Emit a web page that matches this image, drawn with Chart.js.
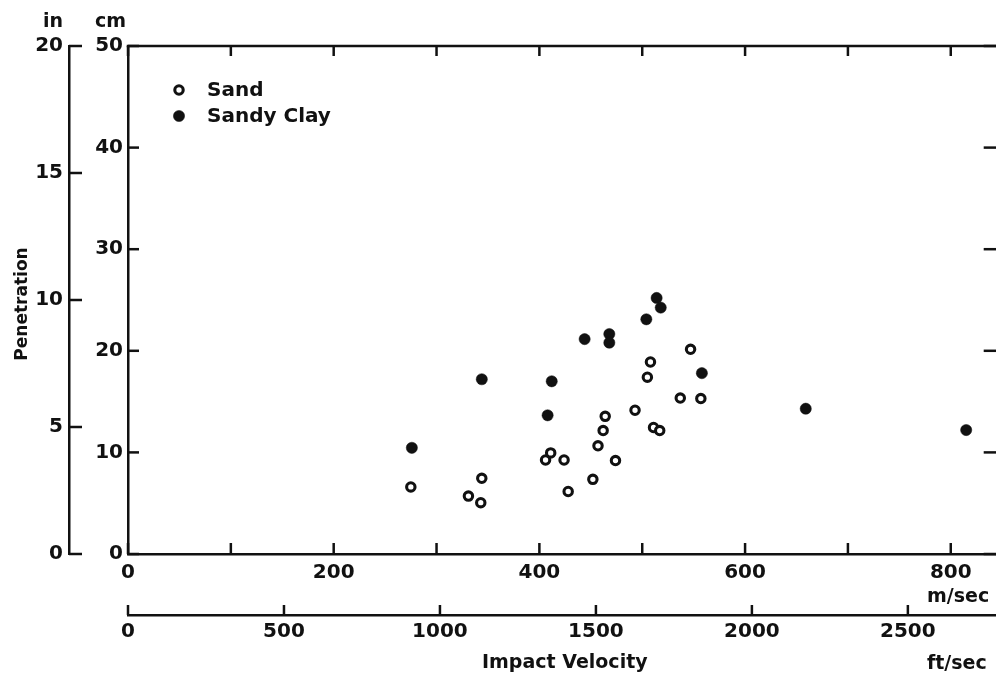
<!DOCTYPE html>
<html>
<head>
<meta charset="utf-8">
<script src="https://cdn.jsdelivr.net/npm/chart.js@4.4.1/dist/chart.umd.min.js"></script>
<style>
html,body{margin:0;padding:0;background:#fff;overflow:hidden;width:996px;height:682px}
canvas{display:block}
</style>
</head>
<body>
<canvas id="c" width="1010" height="682"></canvas>
<script>
// ---- data (impact velocity in m/sec, penetration in cm) ----
const sandVelocity    = [275, 331, 343, 344, 406, 411, 424, 428, 452, 457, 462, 464, 474, 493, 505, 508, 511, 517, 537, 547, 557];
const sandPenetration = [6.6, 5.7, 5.05, 7.45, 9.25, 9.95, 9.25, 6.15, 7.35, 10.65, 12.15, 13.55, 9.2, 14.15, 17.4, 18.9, 12.45, 12.15, 15.35, 20.15, 15.3];
const clayVelocity    = [276, 344, 408, 412, 444, 468, 468, 504, 514, 518, 558, 659, 815];
const clayPenetration = [10.45, 17.2, 13.65, 17.0, 21.15, 21.65, 20.8, 23.1, 25.2, 24.25, 17.8, 14.3, 12.2];

const seriesNames = ['Sand', 'Sandy Clay'];

// ---- tick values / labels ----
const mpsTicks    = [0, 100, 200, 300, 400, 500, 600, 700, 800];
const mpsLabelled = [0, 200, 400, 600, 800];
const ftTicks     = [0, 500, 1000, 1500, 2000, 2500];
const cmTicks     = [0, 10, 20, 30, 40, 50];
const inTicks     = [0, 5, 10, 15, 20];

const yTitle = 'Penetration';
const xTitle = 'Impact Velocity';
const unitIn = 'in', unitCm = 'cm', unitMps = 'm/sec', unitFt = 'ft/sec';

const INK = '#111';
const FONT = '"DejaVu Sans", sans-serif';

Chart.defaults.font.family = FONT;
Chart.defaults.color = INK;

function pts(xs, ys) { return xs.map((x, i) => ({x: x, y: ys[i]})); }

const decor = {
  id: 'decor',
  beforeDraw(chart) {
    const c = chart.ctx;
    c.save(); c.fillStyle = '#fff'; c.fillRect(0, 0, chart.width, chart.height); c.restore();
  },
  afterDraw(chart) {
    const {ctx, chartArea: a, scales: s} = chart;
    const line = (x1, y1, x2, y2) => { ctx.beginPath(); ctx.moveTo(x1, y1); ctx.lineTo(x2, y2); ctx.stroke(); };
    ctx.save();
    ctx.strokeStyle = INK; ctx.lineWidth = 2.5;
    // top and right frame
    line(a.left - 1.25, a.top, a.right, a.top);
    line(a.right, a.top, a.right, a.bottom);
    // inward ticks
    for (const t of s.x.ticks) {
      const px = s.x.getPixelForValue(t.value);
      line(px, a.bottom, px, a.bottom - 11);
      line(px, a.top, px, a.top + 10);
    }
    for (const t of s.x2.ticks) {
      const px = s.x2.getPixelForValue(t.value);
      line(px, s.x2.top, px, s.x2.top - 10);
    }
    for (const t of s.y.ticks) {
      const py = s.y.getPixelForValue(t.value);
      line(a.left, py, a.left + 11, py);
      line(a.right, py, a.right - 19, py);
    }
    for (const t of s.y2.ticks) {
      const py = s.y2.getPixelForValue(t.value);
      line(s.y2.right, py, s.y2.right + 13, py);
    }
    // texts
    ctx.fillStyle = INK;
    ctx.font = 'bold 19px ' + FONT;
    ctx.textAlign = 'left'; ctx.textBaseline = 'alphabetic';
    ctx.fillText(unitIn, 43, 27);
    ctx.fillText(unitCm, 95, 27);
    ctx.fillText(unitMps, 927, 602);
    ctx.fillText(unitFt, 927, 669);
    ctx.fillText(xTitle, 482, 668);
    ctx.save();
    ctx.translate(27, 304); ctx.rotate(-Math.PI / 2);
    ctx.font = 'bold 17px ' + FONT; ctx.textAlign = 'center';
    ctx.fillText(yTitle, 0, 0);
    ctx.restore();
    // legend
    const ds = chart.data.datasets;
    const ly = [90, 116];
    ds.forEach((d, i) => {
      ctx.beginPath();
      ctx.arc(179, ly[i], d.pointRadius, 0, Math.PI * 2);
      ctx.fillStyle = d.backgroundColor; ctx.fill();
      ctx.lineWidth = d.borderWidth; ctx.strokeStyle = d.borderColor; ctx.stroke();
      ctx.fillStyle = INK;
      ctx.font = 'bold 20px ' + FONT;
      ctx.textBaseline = 'middle';
      ctx.fillText(d.label, 207, ly[i] + 1);
    });
    ctx.restore();
  }
};

const tickFont = {size: 20, weight: 'bold'};

new Chart(document.getElementById('c'), {
  type: 'scatter',
  data: {
    datasets: [
      {label: seriesNames[0], data: pts(sandVelocity, sandPenetration), xAxisID: 'x', yAxisID: 'y',
       pointRadius: 4.2, borderWidth: 3.1, borderColor: INK, backgroundColor: '#fff', pointHoverRadius: 4.2},
      {label: seriesNames[1], data: pts(clayVelocity, clayPenetration), xAxisID: 'x', yAxisID: 'y',
       pointRadius: 5.6, borderWidth: 0.5, borderColor: INK, backgroundColor: INK, pointHoverRadius: 5.6}
    ]
  },
  options: {
    responsive: false,
    animation: false,
    events: [],
    devicePixelRatio: 1,
    layout: {padding: {top: 46, left: 0, right: 6, bottom: 0}},
    plugins: {legend: {display: false}, tooltip: {enabled: false}, title: {display: false}},
    scales: {
      x: {
        type: 'linear', position: 'bottom', weight: 0, min: 0, max: 850.5,
        afterBuildTicks: sc => { sc.ticks = mpsTicks.map(v => ({value: v})); },
        afterFit: sc => { sc.height = 61; },
        grid: {display: true, drawOnChartArea: false, drawTicks: false},
        border: {display: true, color: INK, width: 2.5},
        ticks: {color: INK, font: tickFont, padding: 7, maxRotation: 0, autoSkip: false,
                callback: v => mpsLabelled.includes(v) ? String(v) : ''}
      },
      x2: {
        type: 'linear', position: 'bottom', weight: 1, min: 0, max: 2804,
        afterBuildTicks: sc => { sc.ticks = ftTicks.map(v => ({value: v})); },
        afterFit: sc => { sc.height = 67; },
        grid: {display: true, drawOnChartArea: false, drawTicks: false},
        border: {display: true, color: INK, width: 2.5},
        ticks: {color: INK, font: tickFont, padding: 5, maxRotation: 0, autoSkip: false,
                callback: v => String(v)}
      },
      y: {
        type: 'linear', position: 'left', weight: 0, min: 0, max: 50,
        afterBuildTicks: sc => { sc.ticks = cmTicks.map(v => ({value: v})); },
        afterFit: sc => { sc.width = 59; },
        grid: {display: true, drawOnChartArea: false, drawTicks: false},
        border: {display: true, color: INK, width: 2.5},
        ticks: {color: INK, font: tickFont, padding: 5, autoSkip: false, callback: v => String(v)}
      },
      y2: {
        type: 'linear', position: 'left', weight: 1, min: 0, max: 20,
        afterBuildTicks: sc => { sc.ticks = inTicks.map(v => ({value: v})); },
        afterFit: sc => { sc.width = 69; },
        grid: {display: true, drawOnChartArea: false, drawTicks: false},
        border: {display: true, color: INK, width: 2.5},
        ticks: {color: INK, font: tickFont, padding: 6, autoSkip: false, callback: v => String(v)}
      }
    }
  },
  plugins: [decor]
});
</script>
</body>
</html>
